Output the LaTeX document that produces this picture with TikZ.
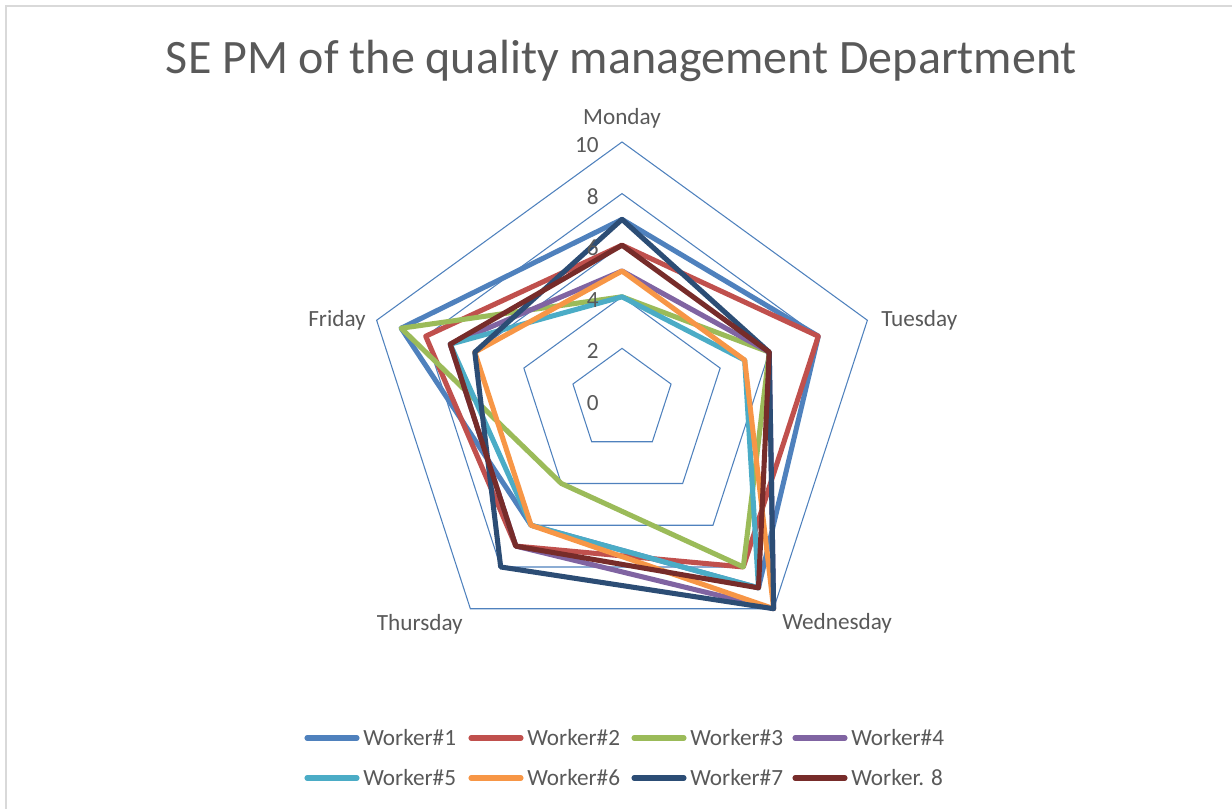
\documentclass[tikz,border=0pt]{standalone}
\usepackage{fontspec}
\setmainfont{Carlito}
\usepackage{tikz}
\usepackage{xcolor}

\definecolor{gridblue}{HTML}{4F81BD}
\definecolor{labelgray}{HTML}{595959}
\definecolor{framegray}{HTML}{D9D9D9}
\definecolor{w1}{HTML}{4F81BD}
\definecolor{w2}{HTML}{C0504D}
\definecolor{w3}{HTML}{9BBB59}
\definecolor{w4}{HTML}{8064A2}
\definecolor{w5}{HTML}{4BACC6}
\definecolor{w6}{HTML}{F79646}
\definecolor{w7}{HTML}{2C4D75}
\definecolor{w8}{HTML}{772C2A}

\begin{document}
\begin{tikzpicture}[x=0.75pt, y=0.75pt,
    series/.style={line width=3.8pt, line join=round},
    lbl/.style={text=labelgray, font=\fontsize{17.4}{20}\selectfont, inner sep=0pt}]
    \useasboundingbox (0,0) rectangle (1232,809);

    % chart frame (left and top edge)
    \draw[framegray, line width=1.3pt] (6,0) -- (6,803) -- (1232,803);

    % 1. Title
    \node[text=labelgray, font=\fontsize{36}{43}\selectfont, anchor=base] (title) at (621.5,735) {SE PM of the quality management Department};

    % 2. Radar grid, centre of the chart, 25.8 px per unit
    \begin{scope}[shift={(622,409)}]
        \foreach \lv in {2,4,...,10}
            \draw[gridblue, line width=0.8pt] (90:{\lv*25.8}) -- (18:{\lv*25.8}) -- (-54:{\lv*25.8}) -- (-126:{\lv*25.8}) -- (162:{\lv*25.8}) -- cycle;

        % 3. Worker series (Mon/Tue/Wed/Thu/Fri)
        \foreach \col/\mo/\tu/\we/\th/\fr in {w1/7/8/9/6/9, w2/6/8/8/7/8, w3/4/6/8/4/9, w4/5/6/10/7/7,
                                               w5/4/5/9/6/7, w6/5/5/10/6/6, w7/7/6/10/8/6, w8/6/6/9/7/7}
            \draw[series, \col] (90:{\mo*25.8}) -- (18:{\tu*25.8}) -- (-54:{\we*25.8}) -- (-126:{\th*25.8}) -- (162:{\fr*25.8}) -- cycle;
    \end{scope}

    % 4. Scale labels
    \foreach \lv in {0,2,...,10}
        \node[lbl, anchor=east] (num\lv) at (599,{406+\lv*25.8}) {\lv};

    % 5. Day labels
    \node[lbl, anchor=base] (mon) at (622,684) {Monday};
    \node[lbl, anchor=base west] (tue) at (881,482) {Tuesday};
    \node[lbl, anchor=base west] (wed) at (782,179) {Wednesday};
    \node[lbl, anchor=base east] (thu) at (463,178) {Thursday};
    \node[lbl, anchor=base east] (fri) at (366,482) {Friday};

    % 6. Legend, two rows of four
    \foreach \i/\x/\y/\name in {1/363/71/Worker\#1, 2/527/71/Worker\#2, 3/690/71/Worker\#3, 4/851/71/Worker\#4,
                                5/363/31/Worker\#5, 6/527/31/Worker\#6, 7/690/31/Worker\#7, 8/851/31/Worker. 8} {
        \node[lbl, anchor=west] (leg\i) at (\x,\y) {\name};
        \draw[series, line cap=round, w\i] (leg\i.west) ++(-6,0) -- ++(-50,0);
    }

\end{tikzpicture}
\end{document}
